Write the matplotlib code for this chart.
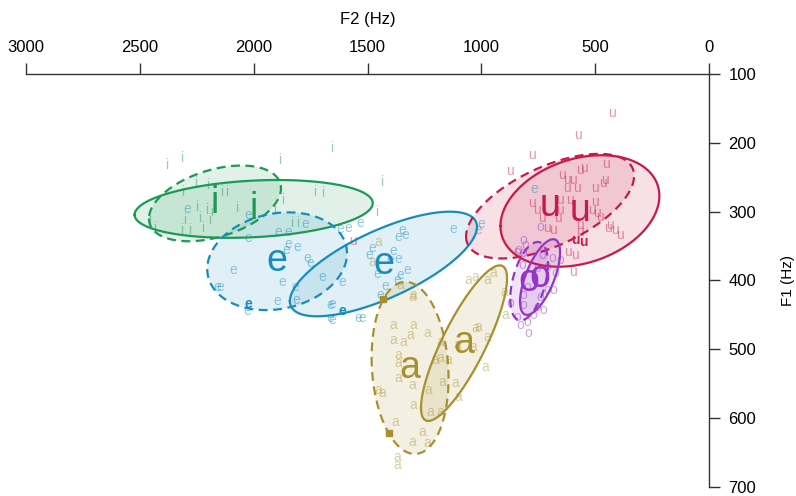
import numpy as np
import matplotlib.pyplot as plt

plt.rcParams['font.family'] = ['Liberation Sans', 'DejaVu Sans']

# vowel colours
vowels = ['i', 'e', 'a', 'u', 'o']
colors = {'i': '#1c9a55', 'e': '#178cbd', 'a': '#a8902e', 'u': '#c8194b', 'o': '#9634c8'}

# single tokens (F2, F1 in Hz)
i_f2 = [2380, 2315, 1884, 1656, 1436, 2310, 2253, 2200, 2139, 2117, 1730, 1695, 1871, 2073,
        2205, 2183, 2249, 2455, 2301, 2236, 2192, 1906, 1458, 2315, 2279, 2222, 1805, 1831, 2433]
i_f1 = [232, 222, 225, 208, 257, 272, 258, 261, 272, 272, 272, 273, 283, 295,
        298, 301, 293, 312, 312, 309, 312, 298, 301, 327, 327, 324, 317, 317, 324]

e_f2 = [2025, 1893, 1849, 1774, 2025, 1849, 1810, 1858, 1766, 1752, 2091, 1875, 1700, 1612,
        2161, 2148, 1818, 1897, 1814, 2029, 1665, 1665, 1542, 1585, 1621, 1533, 1348, 1366,
        1335, 1124, 1480, 1493, 1388, 1366, 1401, 1326, 1458, 1357, 1370, 1423, 1445, 1656,
        1524, 1656, 1001, 1015, 2293, 769]
e_f1 = [305, 330, 330, 318, 338, 347, 351, 356, 367, 375, 385, 402, 395, 402,
        410, 410, 410, 430, 428, 444, 436, 455, 455, 324, 325, 317, 327, 337,
        334, 325, 353, 363, 357, 369, 370, 385, 391, 392, 399, 408, 421, 434,
        455, 458, 318, 327, 296, 267]

a_f2 = [1304, 1388, 1300, 1313, 1239, 1388, 1344, 1181, 1366, 1366, 1203, 1181, 1146, 1366,
        1304, 1173, 1116, 1454, 1436, 1234, 1102, 1300, 1225, 1181, 1379, 1260, 1304, 1239,
        1370, 1370, 1058, 1028, 975, 949, 1015, 1028, 975, 1037, 984, 1107, 896, 900, 1357,
        1454, 1480, 1300]
a_f1 = [424, 465, 465, 479, 476, 487, 490, 490, 508, 520, 516, 513, 516, 542,
        552, 548, 549, 559, 564, 559, 569, 581, 591, 591, 606, 620, 635, 636,
        657, 668, 399, 395, 399, 389, 468, 469, 482, 497, 526, 494, 450, 417, 407,
        344, 373, 421]

u_f2 = [426, 575, 777, 874, 452, 567, 549, 646, 624, 597, 457, 466, 624, 580, 501, 777,
        654, 610, 501, 755, 654, 514, 492, 733, 663, 479, 711, 685, 567, 435, 413, 391,
        567, 444, 619, 589, 597, 1564]
u_f1 = [157, 189, 218, 241, 231, 240, 237, 247, 254, 254, 254, 258, 266, 266, 266, 288,
        283, 283, 286, 298, 298, 298, 302, 309, 309, 308, 324, 327, 319, 319, 327, 334,
        330, 324, 359, 363, 388, 343]

o_f2 = [817, 843, 817, 733, 690, 654, 821, 755, 711, 676, 799, 711, 817, 742, 685, 874,
        817, 755, 729, 843, 799, 830, 795, 773, 742, 808, 839]
o_f1 = [341, 359, 360, 363, 367, 370, 378, 382, 381, 389, 410, 414, 421, 424, 414, 433,
        436, 439, 443, 453, 460, 465, 476, 450, 322, 349, 356]

tokens = {'i': (i_f2, i_f1), 'e': (e_f2, e_f1), 'a': (a_f2, a_f1),
          'u': (u_f2, u_f1), 'o': (o_f2, o_f1)}

# tokens drawn at full strength
strong_vowel = ['e', 'e', 'u', 'u']
strong_f2 = [2025, 1612, 589, 553]
strong_f1 = [434, 444, 341, 344]
square_f2 = [1432, 1405]
square_f1 = [427, 622]

# ellipses per speaker: centre, half-width (F2), half-height (F1), correlation
ell_vowel = ['i', 'i', 'e', 'e', 'a', 'a', 'u', 'u', 'o', 'o']
ell_dashed = [False, True, True, False, True, False, False, True, False, True]
ell_f2 = [2000, 2170, 1897, 1430, 1313, 1076, 567, 698, 742, 790]
ell_f1 = [296, 288, 372, 376, 527, 491, 299, 292, 395, 401]
ell_w = [523, 290, 307, 411, 169, 189, 349, 369, 88, 83]
ell_h = [42, 55, 71, 76, 125, 113, 81, 76, 55, 57]
ell_r = [0.2, 0.4, 0.16, 0.71, -0.12, 0.83, 0.27, 0.58, 0.65, 0.45]

fig = plt.figure(figsize=(7.96, 4.96), dpi=100)
ax = fig.add_axes([26 / 796, 1 - 487 / 496, (709 - 26) / 796, (487 - 74) / 496])

t = np.linspace(0, 2 * np.pi, 300)
for v, dash, cx, cy, w, h, r in zip(ell_vowel, ell_dashed, ell_f2, ell_f1, ell_w, ell_h, ell_r):
    x = cx + w * np.cos(t)
    y = cy + h * (r * np.cos(t) + np.sqrt(1 - r ** 2) * np.sin(t))
    ax.fill(x, y, color=colors[v], alpha=0.13, lw=0, zorder=1)
    ls = (0, (4, 2.5)) if dash else '-'
    ax.plot(x, y, color=colors[v], lw=1.6, ls=ls, zorder=3)

for v in vowels:
    f2s, f1s = tokens[v]
    for f2, f1 in zip(f2s, f1s):
        ax.text(f2, f1, v, color=colors[v], alpha=0.45, fontsize=10,
                ha='center', va='center', zorder=2)

for v, f2, f1 in zip(strong_vowel, strong_f2, strong_f1):
    ax.text(f2, f1, v, color=colors[v], fontsize=10, fontweight='bold',
            ha='center', va='center', zorder=4)
ax.scatter(square_f2, square_f1, marker='s', s=22, color=colors['a'], zorder=4)

# vowel means
for v, cx, cy in zip(ell_vowel, ell_f2, ell_f1):
    ax.text(cx, cy, v, color=colors[v], fontsize=27, ha='center', va='center', zorder=5)

ax.set_xlim(3000, 0)
ax.set_ylim(700, 100)
ax.spines['left'].set_visible(False)
ax.spines['bottom'].set_visible(False)
for s in ['top', 'right']:
    ax.spines[s].set_color('#333333')
    ax.spines[s].set_linewidth(1)
ax.xaxis.tick_top()
ax.yaxis.tick_right()
ax.set_xticks(range(3000, -1, -500))
ax.set_yticks(range(100, 701, 100))
ax.tick_params(direction='out', length=8, width=1, color='#333333', labelsize=12, pad=6)
ax.xaxis.set_label_position('top')
ax.yaxis.set_label_position('right')
ax.set_xlabel('F2 (Hz)', fontsize=12, labelpad=11)
ax.set_ylabel('F1 (Hz)', fontsize=11, labelpad=18)

fig.savefig('out.png', dpi=100)
